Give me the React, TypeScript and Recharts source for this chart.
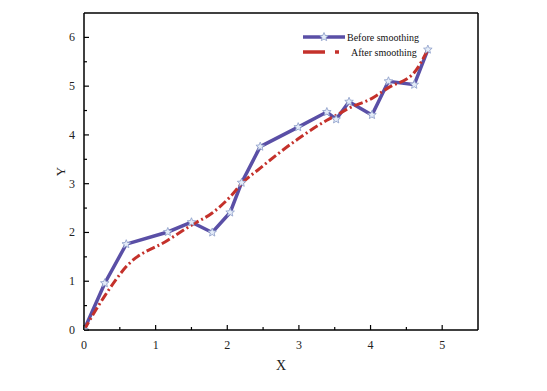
import { LineChart, Line, XAxis, YAxis, ReferenceLine } from 'recharts';

// x positions of the measured samples
const xValues = [0, 0.29, 0.59, 1.17, 1.5, 1.79, 2.04, 2.2, 2.46, 2.99, 3.39, 3.52, 3.7, 4.02, 4.25, 4.61, 4.8];
// raw curve
const beforeValues = [0, 0.96, 1.76, 2.01, 2.21, 2.0, 2.41, 3.02, 3.76, 4.16, 4.47, 4.32, 4.68, 4.41, 5.1, 5.03, 5.75];
// smoothed curve
const afterValues = [0, 0.7, 1.3, 1.84, 2.15, 2.4, 2.73, 3.0, 3.32, 3.92, 4.3, 4.4, 4.55, 4.75, 4.97, 5.28, 5.75];

const xTicks = [0, 0.5, 1, 1.5, 2, 2.5, 3, 3.5, 4, 4.5, 5];
const yTicks = [0, 0.5, 1, 1.5, 2, 2.5, 3, 3.5, 4, 4.5, 5, 5.5, 6];
const xMax = 5.5;
const yMax = 6.5;

const beforeData = xValues.map((x, i) => ({ x, y: beforeValues[i] }));
const afterData = xValues.map((x, i) => ({ x, y: afterValues[i] }));

const BLUE = '#5a4fa6';
const RED = '#c4312b';
const FONT = '"Liberation Serif", "Times New Roman", serif';

const starPoints = (cx: number, cy: number, r: number) => {
  const pts: string[] = [];
  for (let i = 0; i < 10; i++) {
    const rad = i % 2 === 0 ? r : r * 0.45;
    const a = -Math.PI / 2 + (i * Math.PI) / 5;
    pts.push(`${cx + rad * Math.cos(a)},${cy + rad * Math.sin(a)}`);
  }
  return pts.join(' ');
};

const StarDot = (props: any) => {
  const { cx, cy } = props;
  if (cx == null || cy == null) return null;
  return <polygon points={starPoints(cx, cy, 4.5)} fill="#e4ecf8" stroke="#8a9cc8" strokeWidth={0.8} />;
};

const XTick = (props: any) => {
  const { x, y, payload } = props;
  const major = Number.isInteger(payload.value);
  return (
    <g>
      <line x1={x} y1={y} x2={x} y2={y - (major ? 5 : 3)} stroke="#000" strokeWidth={1.2} />
      {major && (
        <text x={x} y={y + 19} textAnchor="middle" fontSize={12} style={{ fill: '#222', stroke: 'none' }} fontFamily={FONT}>
          {payload.value}
        </text>
      )}
    </g>
  );
};

const YTick = (props: any) => {
  const { x, y, payload } = props;
  const major = Number.isInteger(payload.value);
  return (
    <g>
      <line x1={x} y1={y} x2={x + (major ? 5 : 3)} y2={y} stroke="#000" strokeWidth={1.2} />
      {major && (
        <text x={x - 9} y={y + 4} textAnchor="end" fontSize={12} style={{ fill: '#222', stroke: 'none' }} fontFamily={FONT}>
          {payload.value}
        </text>
      )}
    </g>
  );
};

const LegendBox = () => (
  <svg width={140} height={34} style={{ display: 'block' }}>
    <line x1={3} y1={7} x2={45} y2={7} stroke={BLUE} strokeWidth={3.5} />
    <polygon points={starPoints(24, 7, 4.5)} fill="#e4ecf8" stroke="#8a9cc8" strokeWidth={0.8} />
    <text x={47} y={11} fontSize={10} fill="#111" fontFamily={FONT}>
      Before smoothing
    </text>
    <line x1={3} y1={22} x2={25} y2={22} stroke={RED} strokeWidth={3.5} />
    <line x1={35} y1={22} x2={39} y2={22} stroke={RED} strokeWidth={3.5} />
    <text x={51} y={26} fontSize={10} fill="#111" fontFamily={FONT}>
      After smoothing
    </text>
  </svg>
);

export default function App() {
  return (
    <div style={{ position: 'relative', width: 547, height: 391, background: '#fff' }}>
      <style>{`body{margin:0}`}</style>
      <LineChart width={547} height={391} margin={{ top: 13, right: 69, left: 54, bottom: 31 }}>
        <XAxis
          dataKey="x"
          type="number"
          domain={[0, xMax]}
          ticks={xTicks}
          interval={0}
          tickSize={0}
          tickMargin={0}
          height={30}
          tick={<XTick />}
          tickLine={false}
          axisLine={{ stroke: '#000', strokeWidth: 1.5 }}
          allowDataOverflow
          label={{ value: 'X', position: 'insideBottom', offset: -10, fontSize: 14, fill: '#222', fontFamily: FONT }}
        />
        <YAxis
          type="number"
          domain={[0, yMax]}
          ticks={yTicks}
          interval={0}
          tickSize={0}
          tickMargin={0}
          width={30}
          tick={<YTick />}
          tickLine={false}
          axisLine={{ stroke: '#000', strokeWidth: 1.5 }}
          allowDataOverflow
          label={{
            content: (p: any) => {
              const vb = p.viewBox || {};
              const cx = 60;
              const cy = vb.y + vb.height / 2;
              return (
                <text x={cx} y={cy} transform={`rotate(-90 ${cx} ${cy})`} textAnchor="middle" dominantBaseline="central" fontSize={13} fill="#222" fontFamily={FONT}>
                  Y
                </text>
              );
            },
          }}
        />
        <ReferenceLine y={yMax} stroke="#000" strokeWidth={1.5} />
        <ReferenceLine x={xMax} stroke="#000" strokeWidth={1.5} />
        <Line
          data={beforeData}
          dataKey="y"
          name="Before smoothing"
          stroke={BLUE}
          strokeWidth={3.5}
          dot={<StarDot />}
          activeDot={false}
          isAnimationActive={false}
        />
        <Line
          data={afterData}
          dataKey="y"
          name="After smoothing"
          type="monotone"
          stroke={RED}
          strokeWidth={3}
          strokeDasharray="9 3 2 3"
          dot={false}
          activeDot={false}
          isAnimationActive={false}
        />
      </LineChart>
      <div style={{ position: 'absolute', top: 30, left: 300 }}>
        <LegendBox />
      </div>
    </div>
  );
}
